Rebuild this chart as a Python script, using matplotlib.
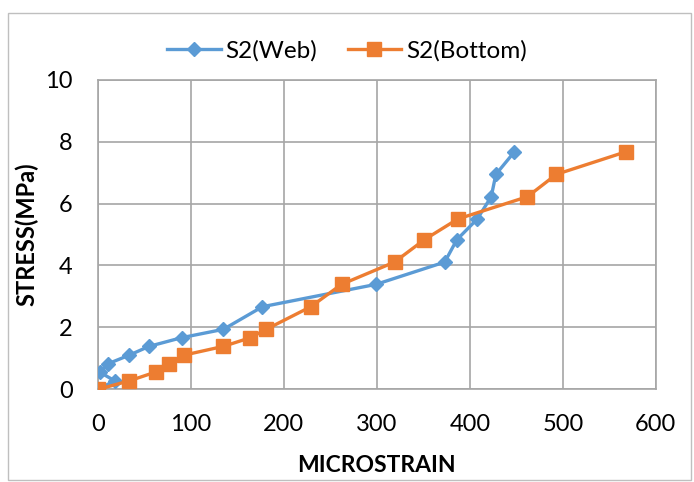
import matplotlib.pyplot as plt
from matplotlib.patches import Rectangle

# Stress levels shared by both gauges (MPa)
stress = [0, 0.28, 0.56, 0.83, 1.11, 1.39, 1.67, 1.94, 2.67, 3.39, 4.11, 4.83, 5.5, 6.22, 6.94, 7.67]

# Microstrain readings
web = [0, 18, 2, 11, 34, 55, 90, 135, 177, 299, 373, 386, 408, 423, 428, 448]
bottom = [0, 34, 62, 77, 93, 135, 164, 181, 229, 262, 319, 351, 387, 462, 493, 568]

x_ticks = [0, 100, 200, 300, 400, 500, 600]
y_ticks = [0, 2, 4, 6, 8, 10]

plt.rcParams["font.family"] = ["Lato", "DejaVu Sans"]

fig = plt.figure(figsize=(6.94, 4.82), dpi=100)
ax = fig.add_axes([0.141, 0.192, 0.804, 0.643])

# chart area border
fig.patches.append(Rectangle((0.011, 0.004), 0.984, 0.97, transform=fig.transFigure,
                             fill=False, edgecolor="#BFBFBF", linewidth=1.0))

ax.plot(web, stress, color="#5B9BD5", linewidth=2.4, marker="D", markersize=7,
        label="S2(Web)", zorder=3)
ax.plot(bottom, stress, color="#ED7D31", linewidth=2.4, marker="s", markersize=10.5,
        label="S2(Bottom)", zorder=3)

ax.set_xlim(0, 600)
ax.set_ylim(0, 10)
ax.set_xticks(x_ticks)
ax.set_yticks(y_ticks)
ax.tick_params(length=0, labelsize=17)
ax.tick_params(axis="x", pad=18)
ax.tick_params(axis="y", pad=18)
ax.grid(True, color="#A6A6A6", linewidth=1.2)
ax.set_axisbelow(True)
for s in ax.spines.values():
    s.set_color("#A6A6A6")
    s.set_linewidth(1.2)

ax.set_xlabel("MICROSTRAIN", fontsize=16.5, fontweight="bold", labelpad=14)
ax.set_ylabel("STRESS(MPa)", fontsize=17, fontweight="bold", labelpad=5)

fig.legend(loc="center", bbox_to_anchor=(0.5, 1 - 51 / 482), ncol=2, frameon=False,
           fontsize=17.5, handlelength=2.2, columnspacing=1.25, handletextpad=0.2)

fig.savefig("out.png", dpi=100)
